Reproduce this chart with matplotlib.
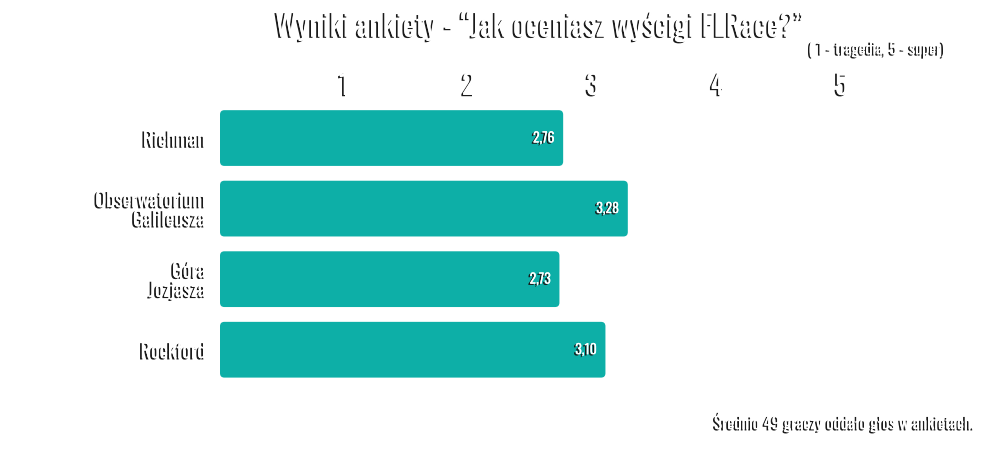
import matplotlib
matplotlib.use("Agg")
import matplotlib.pyplot as plt
import matplotlib.patheffects as pe
from matplotlib.patches import FancyBboxPatch

tracks = ["Richman", "Obserwatorium\nGalileusza", "Góra\nJozjasza", "Rockford"]
scores = [2.76, 3.28, 2.73, 3.10]
score_labels = ["2,76", "3,28", "2,73", "3,10"]
ticks = [1, 2, 3, 4, 5]

teal = "#0DAFA7"
plt.rcParams['font.family'] = ['Oswald', 'DejaVu Sans']
plt.rcParams['font.weight'] = 'bold'

shadow = [pe.withSimplePatchShadow(offset=(-1.3, -0.9), shadow_rgbFace='#1a1a1a', alpha=1.0), pe.Normal()]

fig = plt.figure(figsize=(10, 4.67), dpi=100)
ax = fig.add_axes([0.22, 0.165, 0.746, 0.621])

bh = 0.79
for i, v in enumerate(scores):
    p = FancyBboxPatch((0, i - bh / 2), v, bh, boxstyle="round,pad=0,rounding_size=0.035",
                       mutation_aspect=1.8, fc=teal, ec='none')
    ax.add_patch(p)
    ax.text(v - 0.07, i, score_labels[i], ha='right', va='center', color='white',
            fontsize=10, path_effects=shadow)

ax.set_xlim(0, 6)
ax.set_ylim(3.57, -0.54)
ax.xaxis.tick_top()
ax.set_xticks(ticks)
ax.set_xticklabels([str(t) for t in ticks], fontsize=20, color='white')
for lbl in ax.get_xticklabels():
    lbl.set_path_effects(shadow)
ax.tick_params(axis='x', length=0, pad=0)
ax.set_yticks(range(len(tracks)))
ax.set_yticklabels(tracks, fontsize=14.5, color='white', linespacing=0.95)
for lbl in ax.get_yticklabels():
    lbl.set_path_effects(shadow)
ax.tick_params(axis='y', length=0, pad=10)
for s in ax.spines.values():
    s.set_visible(False)

fig.text(0.54, 0.942, "Wyniki ankiety - “Jak oceniasz wyścigi FLRace?”", ha='center', va='center',
         fontsize=22, color='white', path_effects=shadow)
fig.text(0.945, 0.893, "( 1 - tragedia, 5 - super)", ha='right', va='center',
         fontsize=11.5, color='white', path_effects=shadow)
fig.text(0.975, 0.097, "Średnio 49 graczy oddało głos w ankietach.", ha='right', va='center',
         fontsize=12, color='white', path_effects=shadow)

fig.savefig("out.png", dpi=100, facecolor='white')
